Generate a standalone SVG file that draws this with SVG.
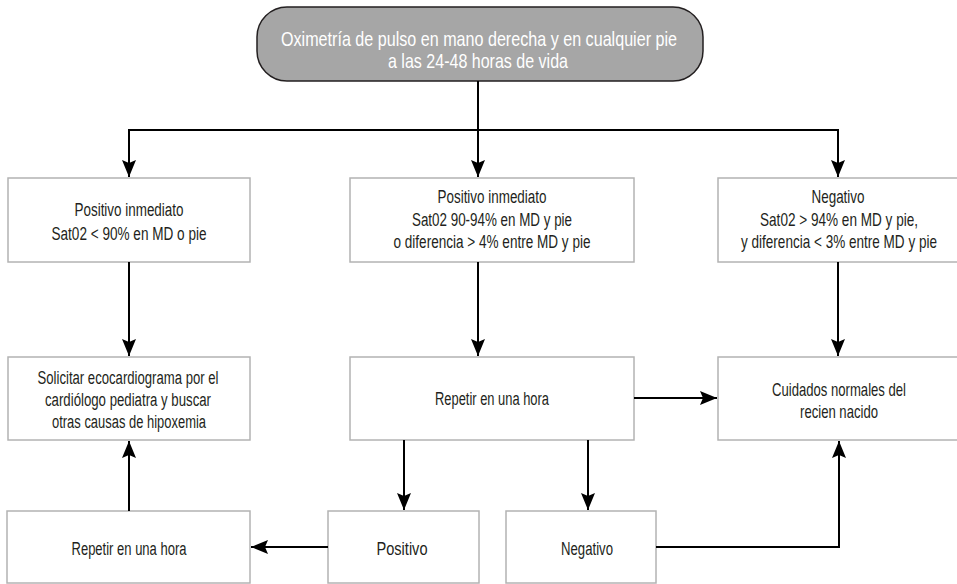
<svg xmlns="http://www.w3.org/2000/svg" width="957" height="584" viewBox="0 0 957 584">
<style>
.box{fill:#fff;stroke:#b3b3b3;stroke-width:1.5}
.t{font-family:"Liberation Sans",Arial,sans-serif;font-size:18px;fill:#231f20;text-anchor:middle}
.tw{font-family:"Liberation Sans",Arial,sans-serif;font-size:21px;fill:#fff;text-anchor:middle}
.c{fill:none;stroke:#000;stroke-width:2}
</style>
<defs>
<marker id="ah" markerUnits="userSpaceOnUse" markerWidth="20" markerHeight="16" refX="17" refY="7" orient="auto">
<path d="M0,0 L17,7 L0,14 L3,7 Z" fill="#000"/>
</marker>
</defs>
<rect width="957" height="584" fill="#fff"/>
<g id="n-top">
<rect x="257" y="7" width="446" height="74" rx="30" fill="#a6a6a6" stroke="#231f20" stroke-width="1.5"/>
<text class="tw" x="479" y="46" textLength="396" lengthAdjust="spacingAndGlyphs">Oximetría de pulso en mano derecha y en cualquier pie</text>
<text class="tw" x="478" y="68" textLength="180" lengthAdjust="spacingAndGlyphs">a las 24-48 horas de vida</text>
</g>
<g id="n-pos1">
<rect class="box" x="8" y="178" width="242" height="84"/>
<text class="t" x="129" y="216" textLength="109" lengthAdjust="spacingAndGlyphs">Positivo inmediato</text>
<text class="t" x="129" y="240" textLength="155" lengthAdjust="spacingAndGlyphs">Sat02 &lt; 90% en MD o pie</text>
</g>
<g id="n-pos2">
<rect class="box" x="350" y="178" width="284" height="84"/>
<text class="t" x="492" y="203" textLength="109" lengthAdjust="spacingAndGlyphs">Positivo inmediato</text>
<text class="t" x="492" y="226" textLength="160" lengthAdjust="spacingAndGlyphs">Sat02 90-94% en MD y pie</text>
<text class="t" x="492" y="248" textLength="197" lengthAdjust="spacingAndGlyphs">o diferencia &gt; 4% entre MD y pie</text>
</g>
<g id="n-neg">
<rect class="box" x="718" y="178" width="242" height="84"/>
<text class="t" transform="translate(838 203) scale(0.7 1)" textLength="75.7" lengthAdjust="spacingAndGlyphs">Negativo</text>
<text class="t" transform="translate(839 226) scale(0.7 1)" textLength="225.7" lengthAdjust="spacingAndGlyphs">Sat02 &gt; 94% en MD y pie,</text>
<text class="t" transform="translate(839 248) scale(0.7 1)" textLength="280" lengthAdjust="spacingAndGlyphs">y diferencia &lt; 3% entre MD y pie</text>
</g>
<g id="n-eco">
<rect class="box" x="8" y="357" width="242" height="83"/>
<text class="t" x="128" y="384" textLength="181" lengthAdjust="spacingAndGlyphs">Solicitar ecocardiograma por el</text>
<text class="t" x="128" y="406" textLength="166" lengthAdjust="spacingAndGlyphs">cardiólogo pediatra y buscar</text>
<text class="t" x="129" y="428" textLength="154" lengthAdjust="spacingAndGlyphs">otras causas de hipoxemia</text>
</g>
<g id="n-rep1">
<rect class="box" x="350" y="357" width="284" height="83"/>
<text class="t" x="492" y="405" textLength="114" lengthAdjust="spacingAndGlyphs">Repetir en una hora</text>
</g>
<g id="n-cuid">
<rect class="box" x="718" y="357" width="242" height="83"/>
<text class="t" transform="translate(839 396) scale(0.7 1)" textLength="191.4" lengthAdjust="spacingAndGlyphs">Cuidados normales del</text>
<text class="t" transform="translate(839 418) scale(0.7 1)" textLength="111.4" lengthAdjust="spacingAndGlyphs">recien nacido</text>
</g>
<g id="n-rep2">
<rect class="box" x="7" y="511" width="243" height="72"/>
<text class="t" x="129" y="555" textLength="115" lengthAdjust="spacingAndGlyphs">Repetir en una hora</text>
</g>
<g id="n-posb">
<rect class="box" x="328" y="511" width="151" height="72"/>
<text class="t" x="402" y="555" textLength="51" lengthAdjust="spacingAndGlyphs">Positivo</text>
</g>
<g id="n-negb">
<rect class="box" x="506" y="511" width="150" height="72"/>
<text class="t" x="587" y="555" textLength="52" lengthAdjust="spacingAndGlyphs">Negativo</text>
</g>
<g id="connectors">
<path class="c" d="M478,81 V130"/>
<path class="c" d="M129,130 H838"/>
<path class="c" d="M129,129 V177" marker-end="url(#ah)"/>
<path class="c" d="M478,130 V177" marker-end="url(#ah)"/>
<path class="c" d="M838,129 V177" marker-end="url(#ah)"/>
<path class="c" d="M129,262 V356" marker-end="url(#ah)"/>
<path class="c" d="M478,262 V356" marker-end="url(#ah)"/>
<path class="c" d="M838,262 V356" marker-end="url(#ah)"/>
<path class="c" d="M634,398 H717" marker-end="url(#ah)"/>
<path class="c" d="M404,440 V510" marker-end="url(#ah)"/>
<path class="c" d="M588,440 V510" marker-end="url(#ah)"/>
<path class="c" d="M328,547 H251" marker-end="url(#ah)"/>
<path class="c" d="M129,511 V441" marker-end="url(#ah)"/>
<path class="c" d="M656,547 H839 V441" marker-end="url(#ah)"/>
</g>
</svg>
